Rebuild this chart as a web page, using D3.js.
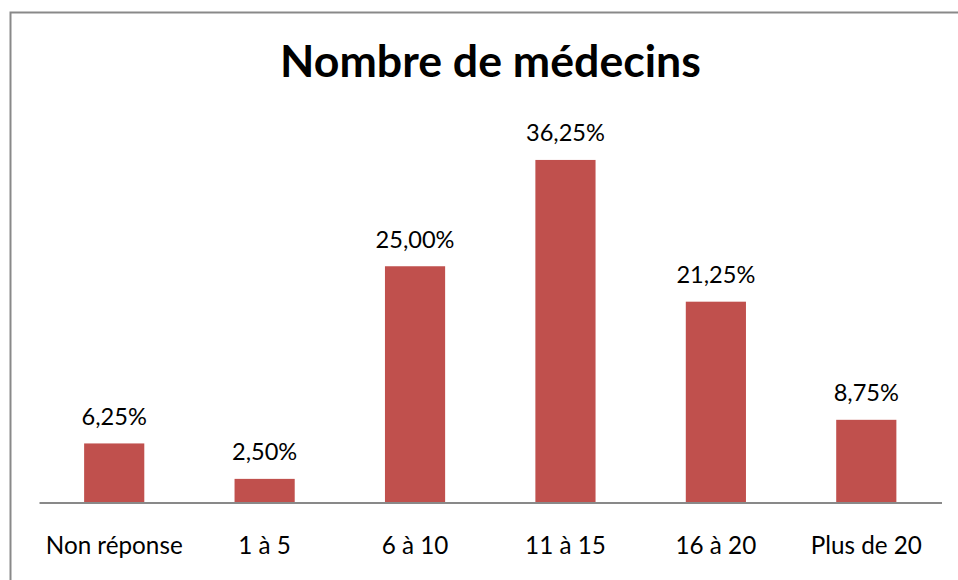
<!DOCTYPE html>
<html><head><meta charset="utf-8">
<script src="https://cdn.jsdelivr.net/npm/d3@7"></script>
<style>body{margin:0;background:#fff}svg{display:block}text{font-family:Lato,"Open Sans",sans-serif;fill:#000}</style>
</head><body>
<svg id="c" width="958" height="580"></svg>
<script>
const title = "Nombre de médecins";
const categories = ["Non réponse","1 à 5","6 à 10","11 à 15","16 à 20","Plus de 20"];
const values = [6.25, 2.50, 25.00, 36.25, 21.25, 8.75];
const valueLabels = ["6,25%","2,50%","25,00%","36,25%","21,25%","8,75%"];
const yDomain = [0, 40];

const svg = d3.select("#c");
svg.append("rect").attr("x",10.5).attr("y",12.5).attr("width",960).attr("height",600)
  .attr("fill","none").attr("stroke","#898989").attr("stroke-width",2);

const x = d3.scaleBand().domain(categories).range([39, 941.5]).paddingInner(0.6).paddingOuter(0.3);
const y = d3.scaleLinear().domain(yDomain).range([502.5, 124.5]);

svg.selectAll("rect.bar").data(values).join("rect").attr("class","bar")
  .attr("x",(d,i)=>x(categories[i])).attr("width",x.bandwidth())
  .attr("y",d=>y(d)).attr("height",d=>y(0)-y(d)).attr("fill","#C0504D");

function fit(sel, refIndex, target, base){
  const n = sel.nodes()[refIndex];
  const w = n.getComputedTextLength();
  return base*target/w;
}

const ax = svg.append("g").attr("transform",`translate(0,${y(0)})`)
  .call(d3.axisBottom(x).tickSize(0).tickPadding(0));
ax.select(".domain").attr("stroke","#898989").attr("stroke-width",2);
const ticks = ax.selectAll(".tick text").attr("dy",null).attr("y",51).attr("font-size",23)
  .style("font-family",'Lato,"Open Sans",sans-serif').attr("fill","#000");
ticks.attr("font-size", fit(ticks, 0, 137, 23));

const vals = svg.selectAll("text.val").data(values).join("text").attr("class","val")
  .attr("x",(d,i)=>x(categories[i])+x.bandwidth()/2).attr("y",d=>y(d)-18.5)
  .attr("text-anchor","middle").attr("font-size",20).text((d,i)=>valueLabels[i]);
vals.attr("font-size", fit(vals, 3, 79, 20));

const t = svg.append("text").attr("x",490.5).attr("y",77).attr("text-anchor","middle")
  .attr("font-weight","bold").attr("font-size",40).text(title);
t.attr("font-size", fit(t, 0, 421, 40));
</script>
</body></html>
